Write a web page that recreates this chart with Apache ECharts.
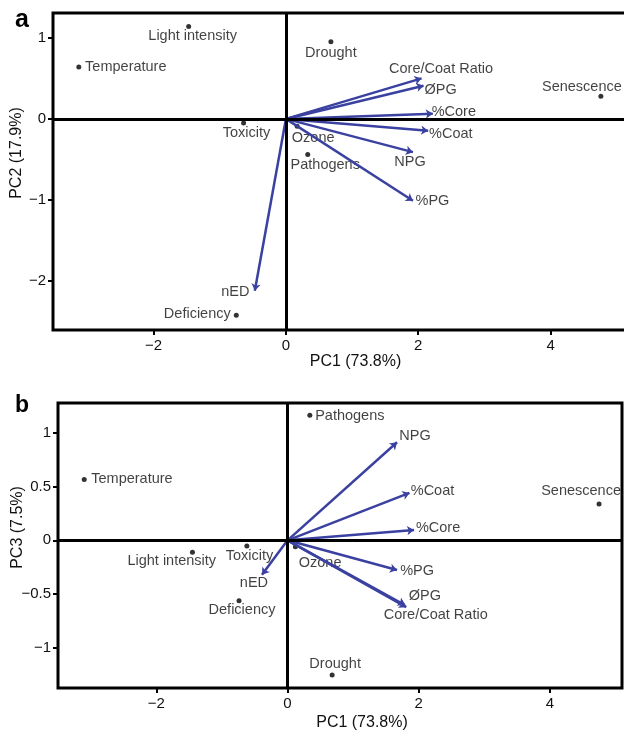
<!DOCTYPE html>
<html><head><meta charset="utf-8">
<script src="https://cdn.jsdelivr.net/npm/echarts@6/dist/echarts.min.js"></script>
<style>html,body{margin:0;padding:0;background:#fff}#c{width:624px;height:731px}</style>
</head><body><div id="c"></div>
<script>
// ---------- data ----------
const pointNames = ['Temperature','Light intensity','Toxicity','Deficiency','Ozone','Pathogens','Drought','Senescence'];
const pointsA_PC1 = [-3.13, -1.47, -0.64, -0.75, 0.17, 0.33, 0.68, 4.76];
const pointsA_PC2 = [0.64, 1.14, -0.05, -2.42, -0.09, -0.44, 0.95, 0.28];
const pointsB_PC1 = [-3.10, -1.45, -0.62, -0.74, 0.12, 0.34, 0.68, 4.75];
const pointsB_PC3 = [0.565, -0.11, -0.053, -0.56, -0.06, 1.16, -1.25, 0.336];

const varNames = ['nED','Core/Coat Ratio','ØPG','%Core','%Coat','NPG','%PG'];
const varsA_PC1 = [-0.47, 2.05, 2.08, 2.22, 2.15, 1.92, 1.92];
const varsA_PC2 = [-2.12, 0.50, 0.41, 0.064, -0.145, -0.41, -1.01];
const varsB_PC1 = [-0.39, 1.81, 1.79, 1.93, 1.86, 1.67, 1.67];
const varsB_PC3 = [-0.32, -0.62, -0.60, 0.095, 0.44, 0.91, -0.275];

const xTicks = [-2, 0, 2, 4];
const yTicksA = [-2, -1, 0, 1];
const yTicksB = [-1, -0.5, 0, 0.5, 1];

// ---------- label placement (style only) ----------
const offA = {
  'Temperature':[47,0], 'Light intensity':[4,10], 'Toxicity':[3,10], 'Deficiency':[-39,-1],
  'Ozone':[16,12], 'Pathogens':[17.5,10], 'Drought':[0,11], 'Senescence':[-19,-9.5],
  'nED':[-19.5,0.7], 'Core/Coat Ratio':[19.5,-9], 'ØPG':[17,4], '%Core':[21,-1.4],
  '%Coat':[22.7,3.6], 'NPG':[-3,9.4], '%PG':[19.5,0.3]
};
const offB = {
  'Temperature':[47.7,0], 'Light intensity':[-20.7,8.7], 'Toxicity':[2.6,9.7], 'Deficiency':[3,9.7],
  'Ozone':[24.7,16], 'Pathogens':[40,0.7], 'Drought':[3,-10.7], 'Senescence':[-18,-13.3],
  'nED':[-8,8.3], 'NPG':[18,-6.7], '%Coat':[23,-2], '%Core':[24,-2.3], '%PG':[20,0.7],
  'ØPG':[20,-9], 'Core/Coat Ratio':[29.5,8]
};

const FONT = '"Liberation Sans", Arial, sans-serif';
const ARROW = '#3a41a0';
const TXT = '#111';
const fmt = v => String(v).replace('-', '\u2212');

function xAxisCfg(idx, min, max, namePadLeft, gap) {
  return {
    type:'value', gridIndex:idx, min:min, max:max, position:'bottom',
    name:'PC1 (73.8%)', nameLocation:'middle', nameGap:gap, nameMoveOverlap:false,
    nameTextStyle:{fontFamily:FONT, fontSize:16, color:TXT, verticalAlign:'middle', padding:[0,0,0,namePadLeft]},
    axisLine:{show:false, onZero:false}, splitLine:{show:false},
    axisTick:{show:true, length:5, inside:false, lineStyle:{color:'#000', width:2}, customValues:xTicks},
    axisLabel:{show:true, margin:8, fontFamily:FONT, fontSize:15, color:TXT, customValues:xTicks, formatter:fmt}
  };
}
function yAxisCfg(idx, min, max, ticks, name, padLeft, gap) {
  return {
    type:'value', gridIndex:idx, min:min, max:max, position:'left',
    name:name, nameLocation:'middle', nameGap:gap, nameMoveOverlap:false,
    nameTextStyle:{fontFamily:FONT, fontSize:16, color:TXT, verticalAlign:'middle', padding:[0,0,0,padLeft]},
    axisLine:{show:false, onZero:false}, splitLine:{show:false},
    axisTick:{show:true, length:5, inside:false, lineStyle:{color:'#000', width:2}, customValues:ticks},
    axisLabel:{show:true, margin:7, fontFamily:FONT, fontSize:15, color:TXT, customValues:ticks, formatter:fmt}
  };
}

function panelSeries(idx, px, py, vx, vy, off) {
  const lab = {show:true, position:'inside', formatter:'{b}', fontFamily:FONT, fontSize:14.5, color:TXT};
  return [
    {
      type:'scatter', xAxisIndex:idx, yAxisIndex:idx, z:3,
      symbolSize:5, itemStyle:{color:'#000'},
      label:lab,
      data: pointNames.map((n,i)=>({name:n, value:[px[i],py[i]], label:{offset:off[n]}})),
      markLine:{
        silent:true, symbol:['none','none'], label:{show:false},
        lineStyle:{color:'#000', width:3, type:'solid'},
        data:[{xAxis:0},{yAxis:0}]
      }
    },
    {
      type:'lines', coordinateSystem:'cartesian2d', xAxisIndex:idx, yAxisIndex:idx, z:4,
      symbol:['none','arrow'], symbolSize:7,
      lineStyle:{color:ARROW, width:2.5, opacity:1, curveness:0},
      data: varNames.map((n,i)=>({coords:[[0,0],[vx[i],vy[i]]]}))
    },
    {
      type:'scatter', xAxisIndex:idx, yAxisIndex:idx, z:5,
      symbolSize:1, itemStyle:{color:'rgba(0,0,0,0)'},
      label:lab,
      data: varNames.map((n,i)=>({name:n, value:[vx[i],vy[i]], label:{offset:off[n]}}))
    }
  ];
}

const chart = echarts.init(document.getElementById('c'), null, {renderer:'canvas'});
chart.setOption({
  animation:false,
  backgroundColor:'#fff',
  grid:[
    {left:53, top:13, width:575, height:317, show:true, borderColor:'#000', borderWidth:3, backgroundColor:'transparent', containLabel:false, outerBoundsMode:'none'},
    {left:58, top:403, width:564, height:285, show:true, borderColor:'#000', borderWidth:3, backgroundColor:'transparent', containLabel:false, outerBoundsMode:'none'}
  ],
  xAxis:[ xAxisCfg(0, -3.52, 5.17, 30, 32), xAxisCfg(1, -3.5, 5.1, 44, 34.5) ],
  yAxis:[
    yAxisCfg(0, -2.603, 1.306, yTicksA, 'PC2 (17.9%)', 37, 36),
    yAxisCfg(1, -1.37, 1.274, yTicksB, 'PC3 (7.5%)', 36, 40)
  ],
  graphic:[
    {type:'text', left:15, top:8, style:{text:'a', font:'bold 25px ' + FONT, fill:'#000'}},
    {type:'text', left:15, top:394, style:{text:'b', font:'bold 23px ' + FONT, fill:'#000'}}
  ],
  series:[
    ...panelSeries(0, pointsA_PC1, pointsA_PC2, varsA_PC1, varsA_PC2, offA),
    ...panelSeries(1, pointsB_PC1, pointsB_PC3, varsB_PC1, varsB_PC3, offB)
  ]
});
</script></body></html>
